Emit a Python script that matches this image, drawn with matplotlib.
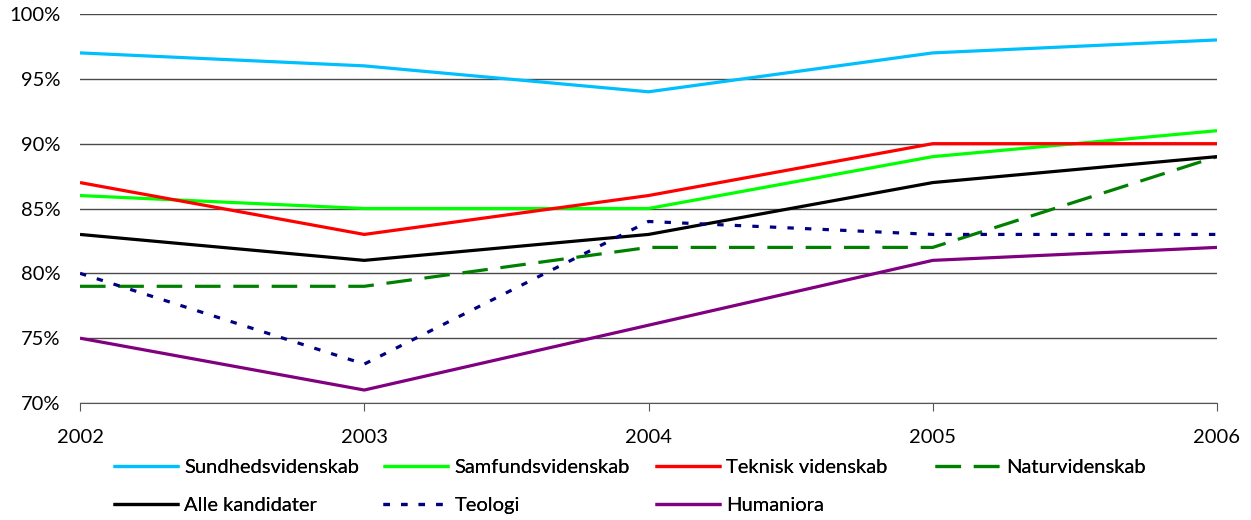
import matplotlib
matplotlib.use("Agg")
import matplotlib.pyplot as plt
from matplotlib.ticker import FuncFormatter

years = [2002, 2003, 2004, 2005, 2006]
series_names = ["Sundhedsvidenskab", "Samfundsvidenskab", "Teknisk videnskab",
                "Naturvidenskab", "Alle kandidater", "Teologi", "Humaniora"]
sundhed = [97, 96, 94, 97, 98]
samfund = [86, 85, 85, 89, 91]
teknisk = [87, 83, 86, 90, 90]
natur = [79, 79, 82, 82, 89]
alle = [83, 81, 83, 87, 89]
teologi = [80, 73, 84, 83, 83]
humaniora = [75, 71, 76, 81, 82]
yticks = [70, 75, 80, 85, 90, 95, 100]

plt.rcParams['font.family'] = ['Lato', 'DejaVu Sans']

fig = plt.figure(figsize=(12.51, 5.2), dpi=100)
ax = fig.add_axes([80/1251, 1-403/520, (1217-80)/1251, (403-14)/520])

styles = [
    dict(color="#00BFFF", ls="-"),
    dict(color="#00FF00", ls="-"),
    dict(color="#FF0000", ls="-"),
    dict(color="#008000", ls=(0, (8, 4))),
    dict(color="#000000", ls="-"),
    dict(color="#000080", ls=(0, (2, 3.5))),
    dict(color="#800080", ls="-"),
]
data = [sundhed, samfund, teknisk, natur, alle, teologi, humaniora]
lines = []
for name, vals, st in zip(series_names, data, styles):
    ln, = ax.plot(years, vals, label=name, lw=2.3, solid_capstyle="butt",
                  dash_capstyle="butt", **st)
    lines.append(ln)

ax.set_xlim(2002, 2006)
ax.set_ylim(70, 100)
ax.set_xticks(years)
ax.set_yticks(yticks)
ax.yaxis.set_major_formatter(FuncFormatter(lambda v, p: f"{int(v)}%"))
ax.grid(axis="y", color="#4a4a4a", lw=1)
ax.set_axisbelow(True)
for s in ["left", "right", "top"]:
    ax.spines[s].set_visible(False)
ax.spines["bottom"].set_color("#555555")
ax.tick_params(axis="y", length=0, labelsize=14.5, pad=14)
ax.tick_params(axis="x", length=6, color="#555555", direction="out", labelsize=14.5, pad=13)

# legend: 4 columns placed at fixed positions, row-major order
columns = [[0, 4], [1, 5], [2, 6], [3]]
col_x = [113, 383, 655, 935]
for idxs, x in zip(columns, col_x):
    leg = fig.legend([lines[i] for i in idxs], [series_names[i] for i in idxs],
                     loc="upper left", bbox_to_anchor=(x/1251, 1-459/520),
                     frameon=False, fontsize=14.5, handlelength=3.3,
                     handletextpad=0.25, labelspacing=1.05, borderpad=0,
                     borderaxespad=0)
    fig.add_artist(leg)

fig.savefig("out.png", dpi=100)
